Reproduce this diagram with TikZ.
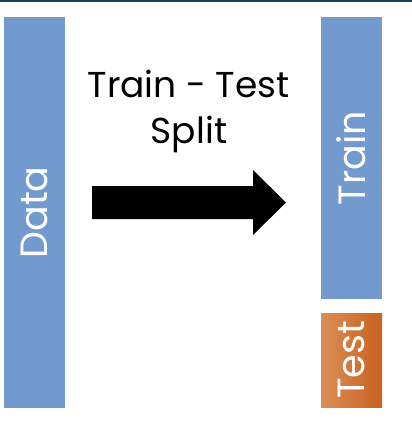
\documentclass[tikz,border=0pt]{standalone}
\usepackage{fontspec}
\setmainfont{Poppins}
\usepackage{tikz}
\definecolor{barblue}{HTML}{729ACF}
\definecolor{testlight}{HTML}{DB8D56}
\definecolor{testdark}{HTML}{C8621F}
\definecolor{topline}{HTML}{1F3A68}

\begin{document}
\begin{tikzpicture}[x=1pt, y=-1pt,
    bar/.style={rectangle, inner sep=0pt, outer sep=0pt, minimum width=61pt},
    barlabel/.style={text=white, rotate=90, font=\fontsize{38}{40}\selectfont},
    title/.style={anchor=base, font=\fontsize{36}{46}\selectfont}]
  % Page frame and top rule
  \useasboundingbox (0,0) rectangle (412,432);
  \fill[white] (0,0) rectangle (412,432);
  \draw[topline, line width=1.5pt] (0,0.75) -- (412,0.75);

  % Data column
  \node[bar, fill=barblue, minimum height=391pt] (data) at (34.5,212.5) {};
  \node[barlabel] (datalabel) at (data.center) {Data};

  % Train and test columns
  \node[bar, fill=barblue, minimum height=282pt] (train) at (351.5,158) {};
  \node[barlabel] (trainlabel) at (train.center) {Train};
  \shade[shading angle=90, left color=testlight, right color=testdark]
    (321,313) rectangle (382,407);
  \node[bar, minimum height=94pt] (test) at (351.5,360) {};
  \node[barlabel] (testlabel) at (test.center) {Test};

  % Split caption
  \node[title] (splittop) at (188.5,97) {Train - Test};
  \node[title] (splitbottom) at (189,143) {Split};

  % Block arrow
  \fill[black] (92,186) -- (253,186) -- (253,170) -- (286,202.5)
    -- (253,235) -- (253,219) -- (92,219) -- cycle;
\end{tikzpicture}
\end{document}
